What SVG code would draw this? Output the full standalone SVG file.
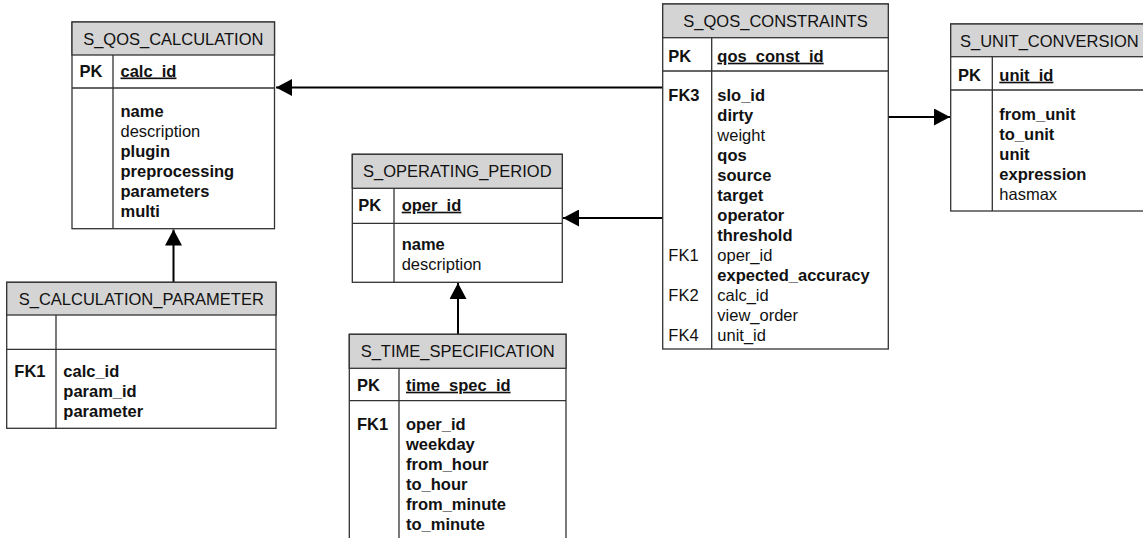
<svg xmlns="http://www.w3.org/2000/svg" width="1143" height="538" viewBox="0 0 1143 538">
  <style>
    text { font-family: "Liberation Sans", Arial, sans-serif; font-size: 16.5px; fill: #111; }
    .title { text-anchor: middle; }
    .b { font-weight: bold; }
    .pk { font-weight: bold; text-decoration: underline; }
    .box { fill: #fff; stroke: #333; stroke-width: 1.3; }
    .head { fill: #d4d4d4; stroke: #333; stroke-width: 1.3; }
    .sep { stroke: #333; stroke-width: 1.3; fill: none; }
    .conn { stroke: #000; stroke-width: 2; fill: none; }
  </style>
  <defs>
    <marker id="arrow" viewBox="0 0 16 17" refX="16" refY="8.5" markerWidth="16" markerHeight="17" markerUnits="userSpaceOnUse" orient="auto">
      <path d="M0,0 L16,8.5 L0,17 Z" fill="#000"/>
    </marker>
  </defs>

  <!-- relationships -->
  <g id="connectors">
    <path class="conn" d="M662,87.5 H276" marker-end="url(#arrow)"/>
    <path class="conn" d="M662,218 H563" marker-end="url(#arrow)"/>
    <path class="conn" d="M888,117 H950" marker-end="url(#arrow)"/>
    <path class="conn" d="M173.5,282 V229.5" marker-end="url(#arrow)"/>
    <path class="conn" d="M458,334 V283" marker-end="url(#arrow)"/>
  </g>

  <!-- S_QOS_CALCULATION -->
  <g id="s_qos_calculation">
    <rect class="box" x="72" y="22" width="202.5" height="206.7"/>
    <rect class="head" x="72" y="22" width="202.5" height="33"/>
    <path class="sep" d="M72,88 H274.5 M113,55 V228.7"/>
    <text class="title" x="173.3" y="45">S_QOS_CALCULATION</text>
    <text class="b" x="79.5" y="76.5">PK</text>
    <text class="pk" x="120.5" y="76.5">calc_id</text>
    <text class="b" x="120.5" y="117">name</text>
    <text x="120.5" y="137">description</text>
    <text class="b" x="120.5" y="157">plugin</text>
    <text class="b" x="120.5" y="177">preprocessing</text>
    <text class="b" x="120.5" y="197">parameters</text>
    <text class="b" x="120.5" y="217">multi</text>
  </g>

  <!-- S_CALCULATION_PARAMETER -->
  <g id="s_calculation_parameter">
    <rect class="box" x="6.7" y="282.3" width="269.3" height="146"/>
    <rect class="head" x="6.7" y="282.3" width="269.3" height="32.7"/>
    <path class="sep" d="M6.7,349.3 H276 M56,315 V428.3"/>
    <text class="title" x="141.3" y="305">S_CALCULATION_PARAMETER</text>
    <text class="b" x="14.3" y="376.7">FK1</text>
    <text class="b" x="63.3" y="376.7">calc_id</text>
    <text class="b" x="63.3" y="396.7">param_id</text>
    <text class="b" x="63.3" y="416.7">parameter</text>
  </g>

  <!-- S_OPERATING_PERIOD -->
  <g id="s_operating_period">
    <rect class="box" x="352.3" y="154.3" width="210" height="128"/>
    <rect class="head" x="352.3" y="154.3" width="210" height="34"/>
    <path class="sep" d="M352.3,223.3 H562.3 M394,188.3 V282.3"/>
    <text class="title" x="457.3" y="177.3">S_OPERATING_PERIOD</text>
    <text class="b" x="358.3" y="210.7">PK</text>
    <text class="pk" x="401.7" y="210.7">oper_id</text>
    <text class="b" x="401.7" y="250">name</text>
    <text x="401.7" y="270">description</text>
  </g>

  <!-- S_TIME_SPECIFICATION -->
  <g id="s_time_specification">
    <rect class="box" x="349.3" y="334.3" width="216.7" height="220"/>
    <rect class="head" x="349.3" y="334.3" width="216.7" height="34"/>
    <path class="sep" d="M349.3,400.7 H566 M399,368.3 V554"/>
    <text class="title" x="457.7" y="357.3">S_TIME_SPECIFICATION</text>
    <text class="b" x="357" y="390.7">PK</text>
    <text class="pk" x="406" y="390.7">time_spec_id</text>
    <text class="b" x="357" y="430">FK1</text>
    <text class="b" x="406" y="430">oper_id</text>
    <text class="b" x="406" y="450">weekday</text>
    <text class="b" x="406" y="470">from_hour</text>
    <text class="b" x="406" y="490">to_hour</text>
    <text class="b" x="406" y="510">from_minute</text>
    <text class="b" x="406" y="530">to_minute</text>
  </g>

  <!-- S_QOS_CONSTRAINTS -->
  <g id="s_qos_constraints">
    <rect class="box" x="662.7" y="4" width="225.6" height="345"/>
    <rect class="head" x="662.7" y="4" width="225.6" height="33.7"/>
    <path class="sep" d="M662.7,71 H888.3 M711.7,37.7 V349"/>
    <text class="title" x="775.5" y="27.3">S_QOS_CONSTRAINTS</text>
    <text class="b" x="668.3" y="61.7">PK</text>
    <text class="pk" x="717.3" y="61.7">qos_const_id</text>
    <text class="b" x="668.3" y="101">FK3</text>
    <text class="b" x="717.3" y="101">slo_id</text>
    <text class="b" x="717.3" y="121">dirty</text>
    <text x="717.3" y="141">weight</text>
    <text class="b" x="717.3" y="161">qos</text>
    <text class="b" x="717.3" y="181">source</text>
    <text class="b" x="717.3" y="201">target</text>
    <text class="b" x="717.3" y="221">operator</text>
    <text class="b" x="717.3" y="241">threshold</text>
    <text x="668.3" y="261">FK1</text>
    <text x="717.3" y="261">oper_id</text>
    <text class="b" x="717.3" y="281">expected_accuracy</text>
    <text x="668.3" y="301">FK2</text>
    <text x="717.3" y="301">calc_id</text>
    <text x="717.3" y="321">view_order</text>
    <text x="668.3" y="341">FK4</text>
    <text x="717.3" y="341">unit_id</text>
  </g>

  <!-- S_UNIT_CONVERSION -->
  <g id="s_unit_conversion">
    <rect class="box" x="950.7" y="24" width="197.3" height="187"/>
    <rect class="head" x="950.7" y="24" width="197.3" height="32.7"/>
    <path class="sep" d="M950.7,90 H1148 M992.3,56.7 V211"/>
    <text class="title" x="1049.4" y="47.3">S_UNIT_CONVERSION</text>
    <text class="b" x="958" y="80.7">PK</text>
    <text class="pk" x="999.3" y="80.7">unit_id</text>
    <text class="b" x="999.3" y="120">from_unit</text>
    <text class="b" x="999.3" y="140">to_unit</text>
    <text class="b" x="999.3" y="160">unit</text>
    <text class="b" x="999.3" y="180">expression</text>
    <text x="999.3" y="200">hasmax</text>
  </g>
</svg>
